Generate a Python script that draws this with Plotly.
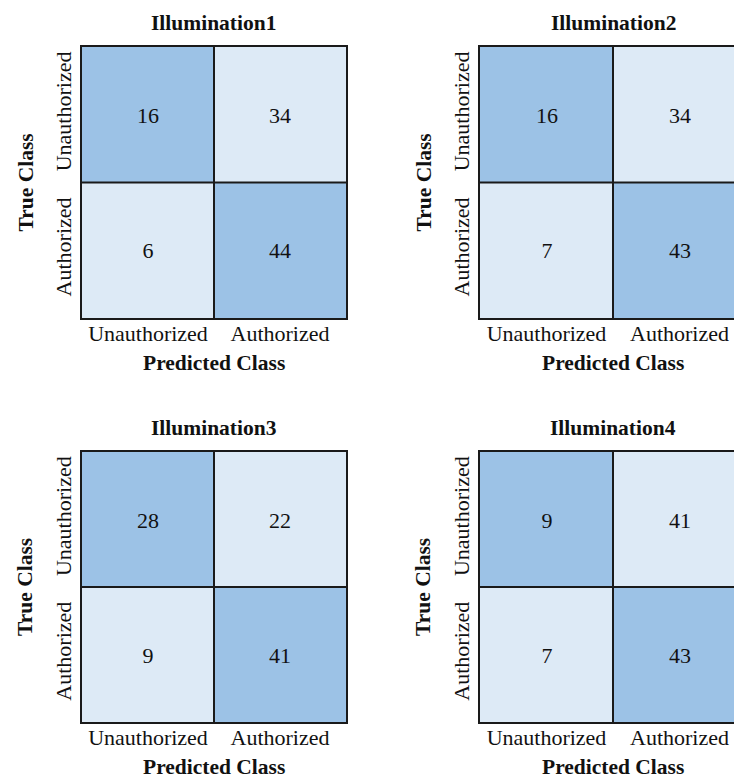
import plotly.graph_objects as go

# Confusion matrices: rows = true class, columns = predicted class
class_labels = ["Unauthorized", "Authorized"]
panel_titles = ["Illumination1", "Illumination2", "Illumination3", "Illumination4"]
illum1 = [[16, 34], [6, 44]]
illum2 = [[16, 34], [7, 43]]
illum3 = [[28, 22], [9, 41]]
illum4 = [[9, 41], [7, 43]]
matrices = [illum1, illum2, illum3, illum4]

W, H = 734, 781
DARK = "#9cc2e6"
LIGHT = "#ddeaf6"
FONT = "Liberation Serif"
INK = "#111111"
EDGE = "#1a1a1a"

# panel boxes in pixels: (left, right_visible, full_right, top, bottom)
boxes = [
    (82, 346, 346, 47, 318),
    (480, 734, 746, 47, 318),
    (82, 346, 346, 452, 722),
    (480, 734, 746, 452, 722),
]

fig = go.Figure()
annotations = []
shapes = []


def label(text, x, y, size, angle=0):
    return dict(text=text, x=x / W, y=1 - y / H, xref="paper", yref="paper",
                xanchor="center", yanchor="middle", showarrow=False, textangle=angle,
                font=dict(family=FONT, size=size, color=INK))


for i, (mat, title, box) in enumerate(zip(matrices, panel_titles, boxes)):
    left, right_vis, right_full, top, bottom = box
    k = "" if i == 0 else str(i + 1)
    xa, ya = "x" + k, "y" + k
    # diagonal cells shaded dark, off-diagonal light
    shade = [[1 if r == c else 0 for c in range(2)] for r in range(2)]
    fig.add_trace(go.Heatmap(
        z=shade, x=[0, 1], y=[0, 1],
        text=[[str(v) for v in row] for row in mat],
        texttemplate="%{text}",
        textfont=dict(family=FONT, size=22, color=INK),
        colorscale=[[0, LIGHT], [1, DARK]], zmin=0, zmax=1,
        showscale=False, hoverinfo="skip",
        xaxis=xa, yaxis=ya,
    ))
    cell_w = (right_full - left) / 2.0
    x_hi = -0.5 + (right_vis - left) / cell_w
    clipped = right_vis < right_full
    fig.layout["xaxis" + k] = dict(
        domain=[left / W, right_vis / W], range=[-0.5, x_hi],
        tickvals=[0, 1], ticktext=class_labels, anchor=ya,
        showline=True, mirror=True, linecolor=EDGE, linewidth=2,
        showgrid=False, zeroline=False, ticks="", fixedrange=True,
        ticklabelstandoff=-5,
        tickfont=dict(family=FONT, size=22, color=INK),
    )
    fig.layout["yaxis" + k] = dict(
        domain=[1 - bottom / H, 1 - top / H], range=[1.5, -0.5],
        tickvals=[0, 1], ticktext=class_labels, anchor=xa,
        showline=True, mirror=not clipped, linecolor=EDGE, linewidth=2,
        showgrid=False, zeroline=False, ticks="", tickangle=-90,
        tickfont=dict(family=FONT, size=22, color=INK),
    )
    # cell dividers
    shapes.append(dict(type="line", xref=xa, yref=ya, x0=0.5, x1=0.5, y0=-0.5, y1=1.5,
                       line=dict(color=EDGE, width=2)))
    shapes.append(dict(type="line", xref=xa, yref=ya, x0=-0.5, x1=x_hi, y0=0.5, y1=0.5,
                       line=dict(color=EDGE, width=2)))
    cx = (left + right_full) / 2.0
    cy = (top + bottom) / 2.0
    annotations.append(label("<b>" + title + "</b>", cx, top - 24, 21.5))
    annotations.append(label("<b>Predicted Class</b>", cx, bottom + 45, 21.5))
    annotations.append(label("<b>True Class</b>", left - 57, cy, 21.5, -90))

fig.update_layout(
    width=W, height=H, margin=dict(l=0, r=0, t=0, b=0),
    paper_bgcolor="white", plot_bgcolor="white",
    annotations=annotations, shapes=shapes, showlegend=False,
)

fig.write_html("out.html")
